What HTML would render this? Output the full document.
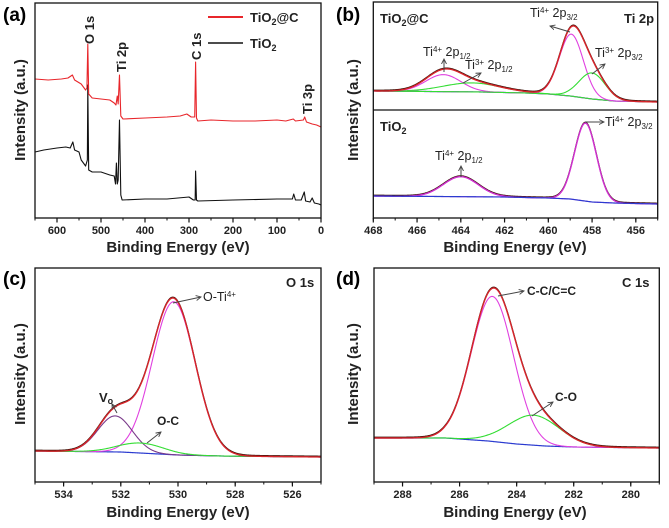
<!DOCTYPE html>
<html><head><meta charset="utf-8"><style>
body{margin:0;background:#fff}
svg{display:block;font-family:"Liberation Sans",Arial,sans-serif}
.t{font-weight:bold;font-size:11px;fill:#222}
.ti{font-weight:bold;font-size:15px;fill:#222}
.pl{font-weight:bold;font-size:19px;fill:#000}
.lb{font-size:12.5px;fill:#222}
.lbb{font-weight:bold;font-size:12px;fill:#222}
</style></head><body>
<svg id="fig" width="669" height="528" viewBox="0 0 669 528">
<defs><marker id="ar" markerWidth="6" markerHeight="6" refX="5" refY="3" orient="auto"><path d="M0,0.5 L5,3 L0,5.5" fill="none" stroke="#444" stroke-width="0.9"/></marker></defs>
<g id="layer"></g>
<text class="pl" x="3" y="21">(a)</text>
<text class="pl" x="336" y="21">(b)</text>
<text class="pl" x="3" y="285">(c)</text>
<text class="pl" x="336" y="285">(d)</text>
<g>
<line x1="208" y1="17" x2="243" y2="17" stroke="#e8262b" stroke-width="2"/>
<text class="lbb" x="250" y="22" style="font-size:13px">TiO<tspan dy="3" font-size="9">2</tspan><tspan dy="-3">@C</tspan></text>
<line x1="208" y1="43" x2="243" y2="43" stroke="#111" stroke-width="1.6"/>
<text class="lbb" x="250" y="48" style="font-size:13px">TiO<tspan dy="3" font-size="9">2</tspan></text>
</g>
<text class="lbb" transform="translate(94,44) rotate(-90)" style="font-size:13px">O 1s</text>
<text class="lbb" transform="translate(126,72) rotate(-90)" style="font-size:13px">Ti 2p</text>
<text class="lbb" transform="translate(201,60) rotate(-90)" style="font-size:13px">C 1s</text>
<text class="lbb" transform="translate(312,114) rotate(-90)" style="font-size:13px">Ti 3p</text>
<text class="lbb" x="380" y="23" style="font-size:13px">TiO<tspan dy="3" font-size="9">2</tspan><tspan dy="-3">@C</tspan></text>
<text class="lbb" x="624" y="23" style="font-size:13px">Ti 2p</text>
<text class="lb" x="423" y="56">Ti<tspan dy="-4" font-size="8">4+</tspan><tspan dy="4"> 2p</tspan><tspan dy="3" font-size="8">1/2</tspan></text>
<line x1="444" y1="72" x2="444" y2="59" stroke="#444" marker-end="url(#ar)"/>
<text class="lb" x="465" y="69">Ti<tspan dy="-4" font-size="8">3+</tspan><tspan dy="4"> 2p</tspan><tspan dy="3" font-size="8">1/2</tspan></text>
<line x1="463" y1="83" x2="481" y2="73" stroke="#444" marker-end="url(#ar)"/>
<text class="lb" x="530" y="17">Ti<tspan dy="-4" font-size="8">4+</tspan><tspan dy="4"> 2p</tspan><tspan dy="3" font-size="8">3/2</tspan></text>
<line x1="570" y1="32" x2="550" y2="26" stroke="#444" marker-end="url(#ar)"/>
<text class="lb" x="595" y="57">Ti<tspan dy="-4" font-size="8">3+</tspan><tspan dy="4"> 2p</tspan><tspan dy="3" font-size="8">3/2</tspan></text>
<line x1="592" y1="74" x2="605" y2="64" stroke="#444" marker-end="url(#ar)"/>
<text class="lbb" x="380" y="131" style="font-size:13px">TiO<tspan dy="3" font-size="9">2</tspan></text>
<text class="lb" x="605" y="126">Ti<tspan dy="-4" font-size="8">4+</tspan><tspan dy="4"> 2p</tspan><tspan dy="3" font-size="8">3/2</tspan></text>
<line x1="585" y1="122" x2="604" y2="122" stroke="#444" marker-end="url(#ar)"/>
<text class="lb" x="435" y="160">Ti<tspan dy="-4" font-size="8">4+</tspan><tspan dy="4"> 2p</tspan><tspan dy="3" font-size="8">1/2</tspan></text>
<line x1="461" y1="177" x2="461" y2="166" stroke="#444" marker-end="url(#ar)"/>
<text class="lbb" x="286" y="287" style="font-size:13px">O 1s</text>
<text class="lb" x="203" y="301">O-Ti<tspan dy="-4" font-size="8">4+</tspan></text>
<line x1="173" y1="303" x2="201" y2="297" stroke="#444" marker-end="url(#ar)"/>
<text class="lbb" x="99" y="402" style="font-size:13px">V<tspan dy="2" font-size="9">o</tspan></text>
<line x1="117" y1="413" x2="112" y2="404" stroke="#444" marker-end="url(#ar)"/>
<text class="lbb" x="157" y="425">O-C</text>
<line x1="147" y1="443" x2="161" y2="432" stroke="#444" marker-end="url(#ar)"/>
<text class="lbb" x="622" y="287" style="font-size:13px">C 1s</text>
<text class="lbb" x="527" y="295">C-C/C=C</text>
<line x1="498" y1="296" x2="524" y2="291" stroke="#444" marker-end="url(#ar)"/>
<text class="lbb" x="555" y="401">C-O</text>
<line x1="532" y1="416" x2="553" y2="402" stroke="#444" marker-end="url(#ar)"/>
</svg>
<script>
// ---- panel (a) survey data: [binding energy, intensity a.u.]
const surveyEV = [650,620,590,575,565,560,545,535,532,530,528,520,500,480,470,466,463,461,458,455,450,400,350,320,305,295,287,285,283,280,250,200,150,100,80,63,58,40,37,33,20,10,0];
const surveyRed = [139,138,139,140,143,138,134,128,130,174,124,120,119,118,115,113,122,114,143,102,99,100,101,102,104,101,101,156,100,97,98,97,97,98,97,99,97,98,101,96,94,93,91];
const surveyBlackEV = [650,630,600,580,570,564,560,550,545,535,531,530,528,520,500,480,470,467,465,463,461,458,455,452,400,350,300,290,286,285,283,280,200,100,65,62,58,45,38,35,25,20,15,5,0];
const surveyBlack = [66,68,70,71,70,76,68,66,58,52,58,133,48,46,46,43,42,34,55,34,38,98,23,18,19,19,21,18,18,47,18,17,18,19,19,24,18,18,26,17,16,20,15,14,13];
const surveyTicks = [600,500,400,300,200,100,0];
// ---- panel (b) Ti 2p
const bTopBgEV = [468,463,461,460,459,458,457,455];
const bTopBg = [19,18,17,16,14,11,9,8];
const bTopCenters = [464.8,463.5,458.95,458.0];
const bTopAmps = [17,9,62,26];
const bTopSigmas = [0.8,1.3,0.55,0.6];
const bTopKinds = ['ti4','ti3','ti4','ti3'];
const bBotBgEV = [468,462,460,459,458,457,455];
const bBotBg = [22,21,20,19,16,15,14];
const bBotCenters = [464.0,458.3];
const bBotAmps = [20,78];
const bBotSigmas = [0.8,0.5];
const bTicks = [468,466,464,462,460,458,456];
// ---- panel (c) O 1s
const cBgEV = [535,532,530,528.5,525];
const cBg = [31,30,27,26,25];
const cCenters = [530.15,532.2,531.3];
const cAmps = [153,36,10];
const cSigmas = [0.75,0.6,0.8];
const cColors = ['#e040e0','#7a3a8a','#33dd33'];
const cTicks = [534,532,530,528,526];
// ---- panel (d) C 1s
const dBgEV = [289,286.5,285,284,283,282,279];
const dBg = [44,44,41,38,36,35,34];
const dCenters = [284.85,283.4];
const dAmps = [145,30];
const dSigmas = [0.74,0.9];
const dColors = ['#e040e0','#33dd33'];
const dTicks = [288,286,284,282,280];

const NS='http://www.w3.org/2000/svg';
const layer=document.getElementById('layer');
function mk(tag,attrs,parent){const e=document.createElementNS(NS,tag);for(const k in attrs)e.setAttribute(k,attrs[k]);(parent||layer).appendChild(e);return e;}
function lin(d0,d1,r0,r1){return v=>r0+(v-d0)*(r1-r0)/(d1-d0);}
function interp(xs,ys,x){for(let i=0;i<xs.length-1;i++){const a=xs[i],b=xs[i+1];if((x<=a&&x>=b)||(x>=a&&x<=b)){const t=(x-a)/(b-a);return ys[i]+t*(ys[i+1]-ys[i]);}}return x>xs[0]===xs[0]>xs[xs.length-1]?ys[0]:ys[ys.length-1];}
function gauss(x,c,a,s){return a*Math.exp(-(x-c)*(x-c)/(2*s*s));}
function pathFrom(pts){return pts.map((p,i)=>(i?'L':'M')+p[0].toFixed(2)+','+p[1].toFixed(2)).join('');}

function frame(x0,y0,x1,y1,name){
  const r=mk('rect',{x:x0,y:y0,width:x1-x0,height:y1-y0,fill:'none',stroke:'#111','stroke-width':1.3});
  
  
}
function xaxis(xs,y,ticks,minorStep,lo,hi,name,titleX,titleY){
  const g=mk('g',{});
  
  
  for(let v=hi;v>=lo-1e-9;v-=minorStep){mk('line',{x1:xs(v),x2:xs(v),y1:y,y2:y+2.5,stroke:'#111','stroke-width':1},g);}
  ticks.forEach(t=>{
    mk('line',{x1:xs(t),x2:xs(t),y1:y,y2:y+4.5,stroke:'#111','stroke-width':1.2},g);
    const tx=mk('text',{x:xs(t),y:y+16,'text-anchor':'middle',class:'t'},g);
    
    
    tx.textContent=t;
  });
  const tt=mk('text',{x:titleX,y:titleY,'text-anchor':'middle',class:'ti'},g);
  
  
  tt.textContent='Binding Energy (eV)';
}
function ytitle(x,cy){
  const t=mk('text',{transform:'translate('+x+','+cy+') rotate(-90)','text-anchor':'middle',class:'ti'});
  
  
  t.textContent='Intensity (a.u.)';
}
function curve(pts,color,w,name){
  const p=mk('path',{d:pathFrom(pts),fill:'none',stroke:color,'stroke-width':w,'stroke-linejoin':'round'});
  
  
  return p;
}
function sampleRange(hi,lo,n){const a=[];for(let i=0;i<=n;i++)a.push(hi-(hi-lo)*i/n);return a;}

(function(){
  const xs=lin(650,0,35,321); const ys=v=>218-v;
  curve(surveyBlackEV.map((e,i)=>[xs(e),ys(surveyBlack[i])]),'#111',1.1,'series-tio2');
  curve(surveyEV.map((e,i)=>[xs(e),ys(surveyRed[i])]),'#e8262b',1.1,'series-tio2-c');
  frame(35,3,321,218,'plot-frame-a');
  xaxis(xs,218,surveyTicks,50,0,650,'x-axis-a',178,252);
  ytitle(25,110);
})();

function fitPanel(xs,base,bgEV,bg,centers,amps,sigmas,colors,hi,lo,prefix,envColor,bgLast){
  const E=sampleRange(hi,lo,400);
  const y=v=>base-v;
  const drawBg=()=>curve(E.map(e=>[xs(e),y(interp(bgEV,bg,e))]),'#2b3bd0',1.2,prefix+'-background');
  if(!bgLast) drawBg();
  centers.forEach((c,k)=>{
    curve(E.map(e=>[xs(e),y(interp(bgEV,bg,e)+gauss(e,c,amps[k],sigmas[k]))]),colors[k],1.1,prefix+'-component-'+k);
  });
  const env=E.map(e=>{let s=interp(bgEV,bg,e);centers.forEach((c,k)=>s+=gauss(e,c,amps[k],sigmas[k]));return [xs(e),y(s)];});
  curve(env.map(p=>[p[0],p[1]-0.8]),'#3a1208',1.2,prefix+'-experimental');
  curve(env,envColor,1.4,prefix+'-envelope');
  if(bgLast) drawBg();
}

(function(){
  const xs=lin(468,455,373.3,657.7);
  fitPanel(xs,110,bTopBgEV,bTopBg,bTopCenters,bTopAmps,bTopSigmas,bTopKinds.map(k=>k==='ti4'?'#e040e0':'#33dd33'),468,455,'ti2p-tio2-c','#d8242a',false);
  fitPanel(xs,218,bBotBgEV,bBotBg,bBotCenters,bBotAmps,bBotSigmas,['#e040e0','#e040e0'],468,455,'ti2p-tio2','#d030d0',true);
  frame(373.3,2,657.7,218,'plot-frame-b');
  const sep=mk('line',{x1:373.3,x2:657.7,y1:110,y2:110,stroke:'#111','stroke-width':1.3});
  
  
  xaxis(xs,218,bTicks,1,455,468,'x-axis-b',515,252);
  ytitle(358,110);
})();

(function(){
  const xs=lin(535,525,35,321);
  fitPanel(xs,482,cBgEV,cBg,cCenters,cAmps,cSigmas,cColors,535,525,'o1s','#d8242a',false);
  frame(35,268,321,482,'plot-frame-c');
  xaxis(xs,482,cTicks,1,525,535,'x-axis-c',178,517);
  ytitle(25,374);
})();

(function(){
  const xs=lin(289,279,374,659.3);
  fitPanel(xs,482,dBgEV,dBg,dCenters,dAmps,dSigmas,dColors,289,279,'c1s','#d8242a',false);
  frame(374,268,659.3,482,'plot-frame-d');
  xaxis(xs,482,dTicks,1,279,289,'x-axis-d',515,517);
  ytitle(358,374);
})();
</script>
</body></html>
